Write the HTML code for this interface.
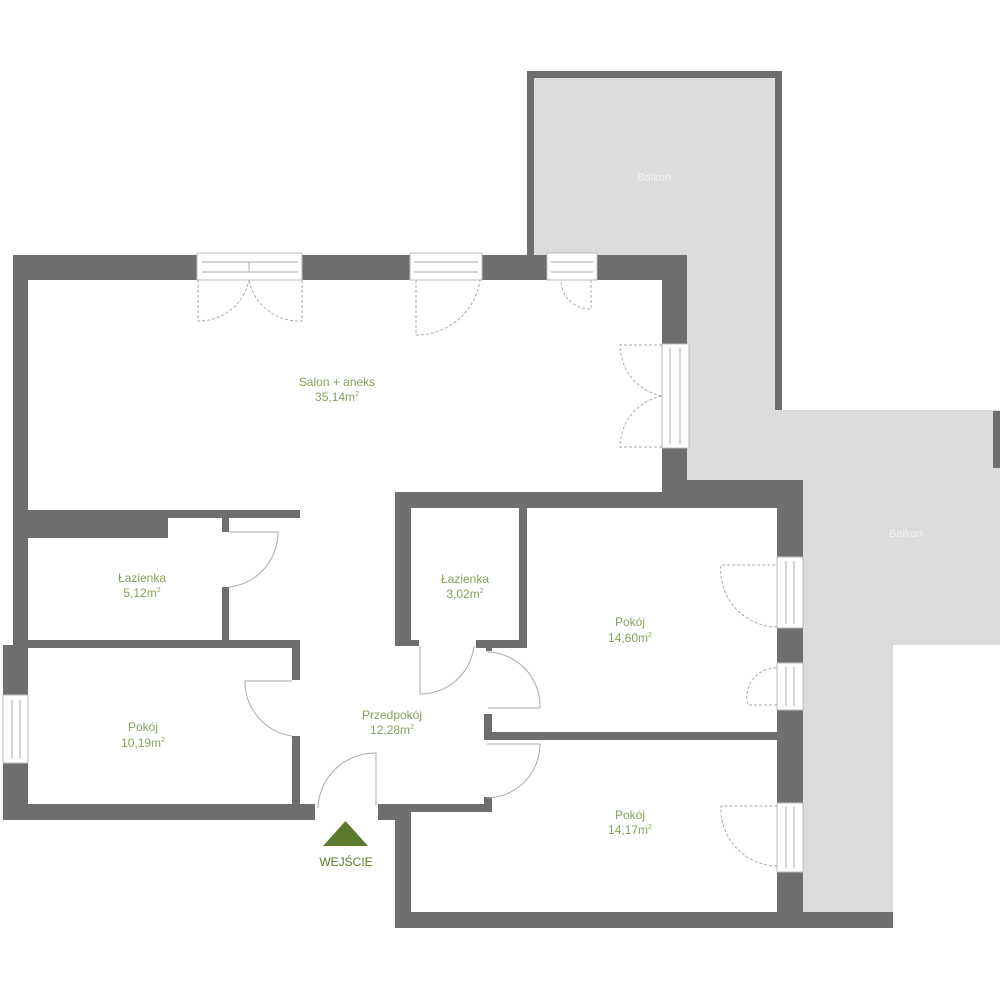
<!DOCTYPE html>
<html><head><meta charset="utf-8"><style>
html,body{margin:0;padding:0;background:#fff;}
svg{display:block;}
text{font-family:"Liberation Sans",sans-serif;}
.l{fill:#86a05c;font-size:12px;text-anchor:middle;}
.b{fill:#f2f2f2;font-size:11px;text-anchor:middle;}
.w{fill:#706e6c;}
.d{fill:none;stroke:#aaa;stroke-width:1;stroke-dasharray:3,2;}
.s{fill:none;stroke:#aaa;stroke-width:1;}
.win{fill:#fff;stroke:#bbb;stroke-width:1;}
</style></head><body>
<svg width="1000" height="1000" viewBox="0 0 1000 1000" xmlns="http://www.w3.org/2000/svg">
<!-- balcony fill -->
<polygon points="527,72 781,72 781,410 1000,410 1000,645 893,645 893,912 803,912 803,480 687,480 687,255 527,255" fill="#dbdcdb"/>
<!-- balcony walls -->
<rect class="w" x="527" y="71" width="255" height="7"/>
<rect class="w" x="527" y="71" width="7" height="184"/>
<rect class="w" x="775" y="71" width="7" height="339"/>
<rect class="w" x="993" y="411" width="7" height="57"/>
<rect class="w" x="803" y="912" width="90" height="16"/>
<!-- outer walls -->
<rect class="w" x="13" y="255" width="674" height="25"/>
<rect class="w" x="662" y="255" width="25" height="235"/>
<rect class="w" x="13" y="255" width="15" height="392"/>
<rect class="w" x="3" y="645" width="25" height="175"/>
<rect class="w" x="3" y="804" width="312" height="16"/>
<!-- left bath -->
<rect class="w" x="28" y="510" width="272" height="8"/>
<rect class="w" x="28" y="510" width="140" height="28"/>
<rect class="w" x="222" y="518" width="7" height="14"/>
<rect class="w" x="222" y="587" width="7" height="55"/>
<rect class="w" x="28" y="640" width="272" height="8"/>
<rect class="w" x="292" y="640" width="8" height="40"/>
<rect class="w" x="292" y="736" width="8" height="68"/>
<!-- center block -->
<rect class="w" x="395" y="492" width="272" height="16"/>
<rect class="w" x="662" y="480" width="141" height="28"/>
<rect class="w" x="395" y="492" width="16" height="154"/>
<rect class="w" x="519" y="508" width="8" height="138"/>
<rect class="w" x="411" y="640" width="8" height="6"/>
<rect class="w" x="476" y="640" width="51" height="8"/>
<rect class="w" x="486" y="646" width="6" height="5"/>
<rect class="w" x="777" y="480" width="26" height="448"/>
<rect class="w" x="484" y="732" width="293" height="8"/>
<rect class="w" x="484" y="714" width="8" height="26"/>
<rect class="w" x="484" y="797" width="8" height="15"/>
<rect class="w" x="378" y="804" width="114" height="8"/>
<rect class="w" x="378" y="804" width="33" height="16"/>
<rect class="w" x="395" y="804" width="16" height="124"/>
<rect class="w" x="395" y="912" width="408" height="16"/>
<!-- windows top -->
<rect class="win" x="197" y="253" width="105" height="27"/>
<line class="s" x1="202" y1="262" x2="298" y2="262"/><line class="s" x1="202" y1="272" x2="298" y2="272"/><line class="s" x1="249" y1="262" x2="249" y2="272"/>
<rect class="win" x="410" y="253" width="72" height="27"/>
<line class="s" x1="414" y1="262" x2="478" y2="262"/><line class="s" x1="414" y1="272" x2="478" y2="272"/>
<rect class="win" x="547" y="253" width="50" height="27"/>
<line class="s" x1="551" y1="262" x2="593" y2="262"/><line class="s" x1="551" y1="272" x2="593" y2="272"/>
<!-- windows right -->
<rect class="win" x="662" y="344" width="27" height="104"/>
<line class="s" x1="670" y1="348" x2="670" y2="444"/><line class="s" x1="680" y1="348" x2="680" y2="444"/>
<rect class="win" x="777" y="557" width="26" height="71"/>
<line class="s" x1="786" y1="561" x2="786" y2="624"/><line class="s" x1="794" y1="561" x2="794" y2="624"/>
<rect class="win" x="777" y="663" width="26" height="47"/>
<line class="s" x1="786" y1="667" x2="786" y2="706"/><line class="s" x1="794" y1="667" x2="794" y2="706"/>
<rect class="win" x="777" y="803" width="26" height="69"/>
<line class="s" x1="786" y1="807" x2="786" y2="868"/><line class="s" x1="794" y1="807" x2="794" y2="868"/>
<rect class="win" x="3" y="695" width="25" height="68"/>
<line class="s" x1="12" y1="700" x2="12" y2="758"/><line class="s" x1="20" y1="700" x2="20" y2="758"/>
<!-- dashed window swings -->
<path class="d" d="M198,280 V321 A51,51 0 0 0 249,280"/>
<path class="d" d="M302,280 V321 A51,51 0 0 1 249,280"/>
<path class="d" d="M416,280 V335 A64,64 0 0 0 480,280"/>
<path class="d" d="M591,280 V309 A29,29 0 0 1 561,280"/>
<path class="d" d="M662,345 H620 A52,52 0 0 0 662,396"/>
<path class="d" d="M662,447 H620 A52,52 0 0 1 662,396"/>
<path class="d" d="M777,627 A57,57 0 0 1 721,565 H777"/>
<path class="d" d="M777,705 H748 A29,29 0 0 1 777,668"/>
<path class="d" d="M777,866 A57,57 0 0 1 721,806 H777"/>
<!-- doors -->
<path class="s" d="M229,532 H278 A55,55 0 0 1 229,587"/>
<path class="s" d="M292,681 H245 A55,55 0 0 0 292,736"/>
<path class="s" d="M420,646 V694 A54,54 0 0 0 474,646"/>
<path class="s" d="M487,652 A54,54 0 0 1 540,708 H488"/>
<path class="s" d="M487,744 H540 A54,54 0 0 1 487,798"/>
<path class="s" d="M376,806 V753 A57,57 0 0 0 318,808"/>
<!-- labels -->
<text class="b" x="654" y="181">Balkon</text>
<text class="b" x="906" y="537">Balkon</text>
<text class="l" x="337" y="386">Salon + aneks</text>
<text class="l" x="337" y="401">35,14m<tspan font-size="7" dy="-5">2</tspan></text>
<text class="l" x="142" y="582">Łazienka</text>
<text class="l" x="142" y="597">5,12m<tspan font-size="7" dy="-5">2</tspan></text>
<text class="l" x="465" y="583">Łazienka</text>
<text class="l" x="465" y="598">3,02m<tspan font-size="7" dy="-5">2</tspan></text>
<text class="l" x="630" y="626">Pokój</text>
<text class="l" x="630" y="642">14,60m<tspan font-size="7" dy="-5">2</tspan></text>
<text class="l" x="143" y="731">Pokój</text>
<text class="l" x="143" y="747">10,19m<tspan font-size="7" dy="-5">2</tspan></text>
<text class="l" x="392" y="719">Przedpokój</text>
<text class="l" x="392" y="734">12,28m<tspan font-size="7" dy="-5">2</tspan></text>
<text class="l" x="630" y="819">Pokój</text>
<text class="l" x="630" y="834">14,17m<tspan font-size="7" dy="-5">2</tspan></text>
<polygon points="323,846 368,846 345.5,821" fill="#5b7a2c"/>
<text x="346" y="866" text-anchor="middle" font-size="12" fill="#5b7a2c">WEJŚCIE</text>
</svg>
</body></html>
